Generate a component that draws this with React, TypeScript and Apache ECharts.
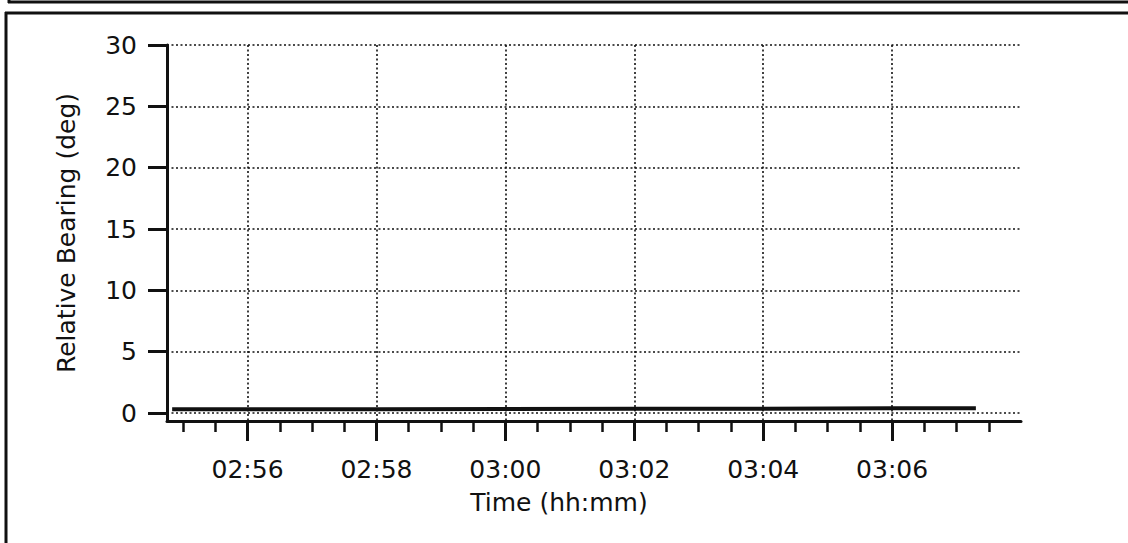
import React, { useEffect, useRef } from "react";
import * as echarts from "echarts";

// Time in minutes since midnight (e.g. 176 = 02:56)
const timeMinutes = [174.83, 176, 178, 180, 182, 184, 186, 187.3];
const bearingDeg = [0.3, 0.3, 0.3, 0.32, 0.35, 0.35, 0.38, 0.38];

const yTicks = [0, 5, 10, 15, 20, 25, 30];
const xMajorTicks = [176, 178, 180, 182, 184, 186];
const xMinorTicks = [175, 175.5, 176.5, 177, 177.5, 178.5, 179, 179.5, 180.5, 181, 181.5, 182.5, 183, 183.5, 184.5, 185, 185.5, 186.5, 187, 187.5];

const X_MIN = 174.75;
const X_MAX = 188;
const Y_MIN = -0.65;
const Y_MAX = 30;

const FONT = "DejaVu Sans";
const FS = 25;
const INK = "#111";

function fmtTime(v: number): string {
  const h = Math.floor(v / 60);
  const m = Math.round(v - h * 60);
  return String(h).padStart(2, "0") + ":" + String(m).padStart(2, "0");
}

export default function App() {
  const ref = useRef<HTMLDivElement>(null);
  useEffect(() => {
    if (!ref.current) return;
    const chart = echarts.init(ref.current, undefined, { renderer: "svg" });
    chart.setOption({
      animation: false,
      backgroundColor: "#fff",
      grid: { left: 167, right: 107, top: 45, bottom: 122, containLabel: false },
      xAxis: [
        {
          type: "value",
          min: X_MIN,
          max: X_MAX,
          position: "bottom",
          axisLine: { show: true, onZero: false, lineStyle: { color: INK, width: 3 } },
          axisTick: {
            show: true,
            inside: false,
            length: 20,
            customValues: xMajorTicks,
            lineStyle: { color: INK, width: 3 },
          },
          axisLabel: {
            show: true,
            customValues: xMajorTicks,
            margin: 36,
            formatter: (v: number) => fmtTime(v),
            color: INK,
            fontFamily: FONT,
            fontSize: FS,
          },
          splitLine: { show: true, lineStyle: { color: INK, type: [2, 2.5], width: 1.6 } },
        },
        {
          type: "value",
          min: X_MIN,
          max: X_MAX,
          position: "bottom",
          gridIndex: 0,
          axisLine: { show: false, onZero: false },
          axisTick: {
            show: true,
            inside: false,
            length: 11,
            customValues: xMinorTicks,
            lineStyle: { color: INK, width: 2.5 },
          },
          axisLabel: { show: false },
          splitLine: { show: false },
        },
      ],
      yAxis: {
        type: "value",
        min: Y_MIN,
        max: Y_MAX,
        name: "Relative Bearing (deg)",
        nameLocation: "middle",
        nameGap: 88,
        nameRotate: 90,
        nameTextStyle: { color: INK, fontFamily: FONT, fontSize: FS },
        axisLine: { show: true, onZero: false, lineStyle: { color: INK, width: 3 } },
        axisTick: {
          show: true,
          inside: false,
          length: 19,
          customValues: yTicks,
          lineStyle: { color: INK, width: 3 },
        },
        axisLabel: {
          show: true,
          customValues: yTicks,
          margin: 30,
          color: INK,
          fontFamily: FONT,
          fontSize: FS,
        },
        splitLine: { show: true, lineStyle: { color: INK, type: [2, 2.5], width: 1.6 } },
      },
      graphic: [
        { type: "line", shape: { x1: 8, y1: 2, x2: 1128, y2: 2 }, style: { stroke: INK, lineWidth: 3 } },
        { type: "line", shape: { x1: 9, y1: 0, x2: 9, y2: 3 }, style: { stroke: INK, lineWidth: 3 } },
        { type: "line", shape: { x1: 5, y1: 13, x2: 1128, y2: 13 }, style: { stroke: INK, lineWidth: 3 } },
        { type: "line", shape: { x1: 6, y1: 12, x2: 6, y2: 543 }, style: { stroke: INK, lineWidth: 3 } },
        {
          type: "text",
          x: 559,
          y: 502,
          style: {
            text: "Time (hh:mm)",
            fill: INK,
            font: `${FS}px "${FONT}"`,
            align: "center",
            verticalAlign: "middle",
          },
        },
      ],
      series: [
        {
          type: "line",
          xAxisIndex: 0,
          yAxisIndex: 0,
          data: timeMinutes.map((t, i) => [t, bearingDeg[i]]),
          showSymbol: false,
          symbol: "none",
          lineStyle: { color: INK, width: 4 },
          silent: true,
        },
      ],
    });
    return () => chart.dispose();
  }, []);
  return (
    <div
      ref={ref}
      style={{ position: "absolute", left: 0, top: 0, width: 1128, height: 543, background: "#fff" }}
    />
  );
}
